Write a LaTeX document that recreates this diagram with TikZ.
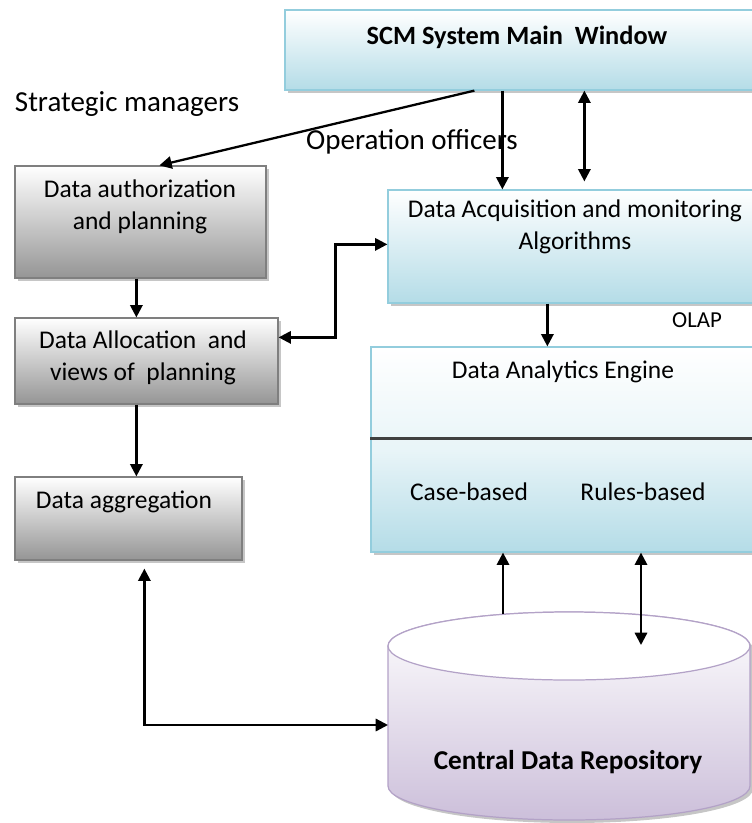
\documentclass[tikz,border=0pt]{standalone}
\usepackage{fontspec}
\setmainfont{Carlito}
\usepackage{tikz}
\usepackage{xcolor}
\usetikzlibrary{calc,fit,shadows,arrows.meta}

\definecolor{fillblue}{HTML}{B4DCE7}
\definecolor{lineblue}{HTML}{93CDDD}
\definecolor{fillgray}{HTML}{959595}
\definecolor{linegray}{HTML}{7F7F7F}
\definecolor{fillpurple}{HTML}{CCBFDA}
\definecolor{linepurple}{HTML}{B3A2C7}

\begin{document}
\begin{tikzpicture}[x=0.2mm,y=0.2mm,
        boxshadow/.style={drop shadow={shadow xshift=0.6mm,shadow yshift=-0.6mm,opacity=0.45,fill=gray}},
        bluebox/.style={draw=lineblue,line width=0.7pt,top color=white,bottom color=fillblue,boxshadow,inner sep=0pt},
        graybox/.style={draw=linegray,line width=0.7pt,top color=white,bottom color=fillgray,boxshadow,inner sep=0pt},
        txt/.style={inner sep=0pt,align=center,font=\fontsize{14.5}{18}\selectfont},
        lbl/.style={inner sep=0pt,font=\fontsize{16.5}{20}\selectfont},
        arr/.style={line width=1.3pt,-{Triangle[length=7pt,width=7pt]}},
        dblarr/.style={line width=1.3pt,{Triangle[length=7pt,width=7pt]}-{Triangle[length=7pt,width=7pt]}}]
        \clip (0,0) rectangle (752,-823);

        \node[bluebox,fit={(285,-10) (770,-90)}] (scm) {};
        \node[graybox,fit={(15,-166) (266,-278)}] (auth) {};
        \node[graybox,fit={(15,-318) (278,-404)}] (alloc) {};
        \node[graybox,fit={(15,-477) (242,-560)}] (aggr) {};
        \node[bluebox,fit={(388,-190) (770,-303)}] (acq) {};
        \node[bluebox,middle color=fillblue!30,fit={(371,-347) (770,-552)}] (eng) {};
        \draw[line width=1.3pt,black!75] ($(eng.north west)+(0,-92)$) -- ($(eng.north east)+(0,-92)$);

        \path[boxshadow,draw=linepurple,line width=0.7pt,top color=white,bottom color=fillpurple]
            (388,-646) -- (388,-786) arc[start angle=180,end angle=360,x radius=181,y radius=34]
            -- (750,-646) arc[start angle=0,end angle=180,x radius=181,y radius=34] -- cycle;
        \draw[linepurple,line width=0.7pt,fill=white] (569,-646) ellipse[x radius=181,y radius=34];

        \node[txt,font=\fontsize{15}{18}\selectfont\bfseries] (scmtxt) at (517,-37) {SCM System Main\ \ Window};
        \node[txt] (authtxt) at (140,-207) {Data authorization\\and planning};
        \node[txt] (alloctxt) at (143,-358) {Data Allocation\ \ and\\views of\ \ planning};
        \node[txt] (aggrtxt) at (124,-502) {Data aggregation};
        \node[txt] (acqtxt) at (575,-227) {Data Acquisition and monitoring\\Algorithms};
        \node[txt] (engtxt) at (563,-372) {Data Analytics Engine};
        \node[txt] (casetxt) at (469,-492) {Case-based};
        \node[txt] (ruletxt) at (643,-492) {Rules-based};
        \node[txt,font=\fontsize{15.5}{18}\selectfont\bfseries] (repo) at (568,-762) {Central Data Repository};
        \node[lbl] (strat) at (127,-104) {Strategic managers};
        \node[lbl] (oper) at (412,-142) {Operation officers};
        \node[txt,font=\fontsize{13}{15}\selectfont] (olap) at (697,-320) {OLAP};

        \coordinate (dbA) at (503,-614);
        \coordinate (dbB) at (641,-645);
        \coordinate (dbC) at (388,-725);

        \draw[arr] ($(scm.south west)+(190,0)$) -- ($(auth.north west)+(145,0)$);
        \draw[arr] ($(scm.south west)+(218,0)$) -- ($(acq.north west)+(115,0)$);
        \draw[dblarr,shorten >=1.6mm] ($(scm.south west)+(300,0)$) -- ($(acq.north west)+(197,0)$);
        \draw[arr] ($(auth.south west)+(122,0)$) -- ($(alloc.north west)+(122,0)$);
        \draw[arr] ($(alloc.south west)+(122,0)$) -- ($(aggr.north west)+(122,0)$);
        \draw[dblarr] ($(alloc.north east)+(0,-20)$) -- ++(57,0) |- ($(acq.north west)+(0,-55)$);
        \draw[arr] ($(acq.south west)+(160,0)$) -- ($(eng.north west)+(177,0)$);
        \draw[arr] (dbA) -- (dbA |- eng.south);
        \draw[dblarr] (dbB) -- (dbB |- eng.south);
        \draw[dblarr,shorten <=1.6mm] ($(aggr.south west)+(130,0)$) |- (dbC);
    \end{tikzpicture}
\end{document}
